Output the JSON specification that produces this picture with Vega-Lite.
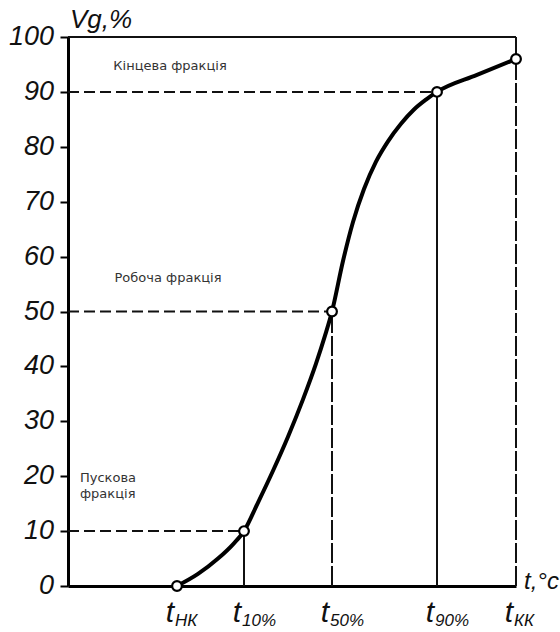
{
  "$schema": "https://vega.github.io/schema/vega-lite/v6.json",
  "width": 448,
  "height": 549,
  "autosize": {"type": "none"},
  "padding": {"left": 68, "top": 37, "right": 44, "bottom": 46},
  "background": "white",
  "config": {"view": {"stroke": null}, "font": "Liberation Sans"},
  "datasets": {
    "curve": [
      {"t": 109, "v": 0}, {"t": 130, "v": 2.2}, {"t": 150, "v": 5.0}, {"t": 165, "v": 7.6}, {"t": 176, "v": 10},
      {"t": 190, "v": 15.2}, {"t": 205, "v": 21}, {"t": 220, "v": 27.2}, {"t": 235, "v": 34},
      {"t": 248, "v": 40.5}, {"t": 257, "v": 45.6}, {"t": 264, "v": 50},
      {"t": 275, "v": 59.2}, {"t": 285, "v": 66.3}, {"t": 296, "v": 72.3}, {"t": 308, "v": 77.3},
      {"t": 320, "v": 81.0}, {"t": 333, "v": 84.2}, {"t": 346, "v": 86.8}, {"t": 358, "v": 88.6},
      {"t": 369, "v": 90}, {"t": 409, "v": 93.1}, {"t": 448, "v": 96}
    ],
    "points": [
      {"t": 109, "v": 0, "name": "НК"}, {"t": 176, "v": 10, "name": "10%"},
      {"t": 264, "v": 50, "name": "50%"}, {"t": 369, "v": 90, "name": "90%"},
      {"t": 448, "v": 96, "name": "КК"}
    ],
    "ticks": [
      {"t": 0, "v": 0}, {"t": 0, "v": 10}, {"t": 0, "v": 20}, {"t": 0, "v": 30}, {"t": 0, "v": 40},
      {"t": 0, "v": 50}, {"t": 0, "v": 60}, {"t": 0, "v": 70}, {"t": 0, "v": 80}, {"t": 0, "v": 90}, {"t": 0, "v": 100}
    ],
    "hdash": [
      {"t": 0, "t2": 176, "v": 10, "v2": 10},
      {"t": 0, "t2": 264, "v": 50, "v2": 50},
      {"t": 0, "t2": 369, "v": 90, "v2": 90}
    ],
    "vdash": [
      {"t": 264, "t2": 264, "v": 0, "v2": 50},
      {"t": 448, "t2": 448, "v": 0, "v2": 100}
    ],
    "solid": [
      {"t": 176, "t2": 176, "v": 0, "v2": 10},
      {"t": 369, "t2": 369, "v": 0, "v2": 90},
      {"t": 0, "t2": 448, "v": 100, "v2": 100}
    ],
    "fractions": [
      {"t": 102, "v": 94.7, "label": "Кінцева фракція"},
      {"t": 100, "v": 56.1, "label": "Робоча фракція"}
    ],
    "pusk": [
      {"t": 12, "v": 19.7, "label": "Пускова"},
      {"t": 12, "v": 16.8, "label": "фракція"}
    ]
  },
  "encoding": {
    "x": {"field": "t", "type": "quantitative", "scale": {"domain": [0, 448], "nice": false, "zero": false},
      "axis": {"domain": true, "domainColor": "#000", "domainWidth": 3, "ticks": false, "labels": false, "grid": false, "title": null}},
    "y": {"field": "v", "type": "quantitative", "scale": {"domain": [0, 100], "nice": false},
      "axis": {"domain": true, "domainColor": "#000", "domainWidth": 3, "values": [0,10,20,30,40,50,60,70,80,90,100], "tickSize": 8, "tickWidth": 2, "tickColor": "#000", "labels": false, "grid": false, "title": null}}
  },
  "layer": [
    {
      "data": {"name": "hdash"},
      "mark": {"type": "rule", "color": "#111", "strokeWidth": 2, "strokeDash": [11, 5]},
      "encoding": {"x2": {"field": "t2"}, "y2": {"field": "v2"}}
    },
    {
      "data": {"name": "vdash"},
      "mark": {"type": "rule", "color": "#111", "strokeWidth": 2, "strokeDash": [20, 3]},
      "encoding": {"x2": {"field": "t2"}, "y2": {"field": "v2"}}
    },
    {
      "data": {"name": "solid"},
      "mark": {"type": "rule", "color": "#111", "strokeWidth": 2},
      "encoding": {"x2": {"field": "t2"}, "y2": {"field": "v2"}}
    },
    {
      "data": {"name": "curve"},
      "mark": {"type": "line", "color": "#000", "strokeWidth": 4, "interpolate": "monotone"}
    },
    {
      "data": {"name": "points"},
      "mark": {"type": "point", "shape": "circle", "filled": true, "fill": "white", "stroke": "#000", "strokeWidth": 2.2, "size": 95, "opacity": 1}
    },
    {
      "data": {"name": "ticks"},
      "mark": {"type": "text", "font": "Liberation Sans", "fontStyle": "italic", "fontSize": 27, "color": "#111", "align": "right", "baseline": "middle", "dx": -14},
      "encoding": {"text": {"field": "v", "type": "quantitative"}}
    },
    {
      "data": {"name": "fractions"},
      "mark": {"type": "text", "font": "DejaVu Sans", "fontSize": 13, "color": "#333", "align": "center", "baseline": "middle"},
      "encoding": {"text": {"field": "label"}}
    },
    {
      "data": {"name": "pusk"},
      "mark": {"type": "text", "font": "DejaVu Sans", "fontSize": 13, "color": "#333", "align": "left", "baseline": "middle"},
      "encoding": {"text": {"field": "label"}}
    },
    {
      "data": {"name": "points"},
      "mark": {"type": "text", "text": "t", "font": "Liberation Sans", "fontStyle": "italic", "fontSize": 30, "color": "#111", "align": "right", "baseline": "alphabetic", "dy": 36, "dx": -3},
      "encoding": {"y": {"datum": 0}}
    },
    {
      "data": {"name": "points"},
      "mark": {"type": "text", "font": "Liberation Sans", "fontStyle": "italic", "fontSize": 17, "color": "#111", "align": "left", "baseline": "alphabetic", "dy": 40, "dx": -2},
      "encoding": {"y": {"datum": 0}, "text": {"field": "name"}}
    },
    {
      "data": {"values": [{"t": 448, "v": 0}]},
      "mark": {"type": "text", "text": "t,°c", "font": "Liberation Sans", "fontStyle": "italic", "fontSize": 24, "color": "#111", "align": "left", "baseline": "alphabetic", "dx": 8, "dy": 3}
    },
    {
      "data": {"values": [{"t": 0, "v": 100}]},
      "mark": {"type": "text", "text": "Vg,%", "font": "Liberation Sans", "fontStyle": "italic", "fontSize": 26, "color": "#111", "align": "left", "baseline": "alphabetic", "dx": 2, "dy": -9}
    }
  ]
}
